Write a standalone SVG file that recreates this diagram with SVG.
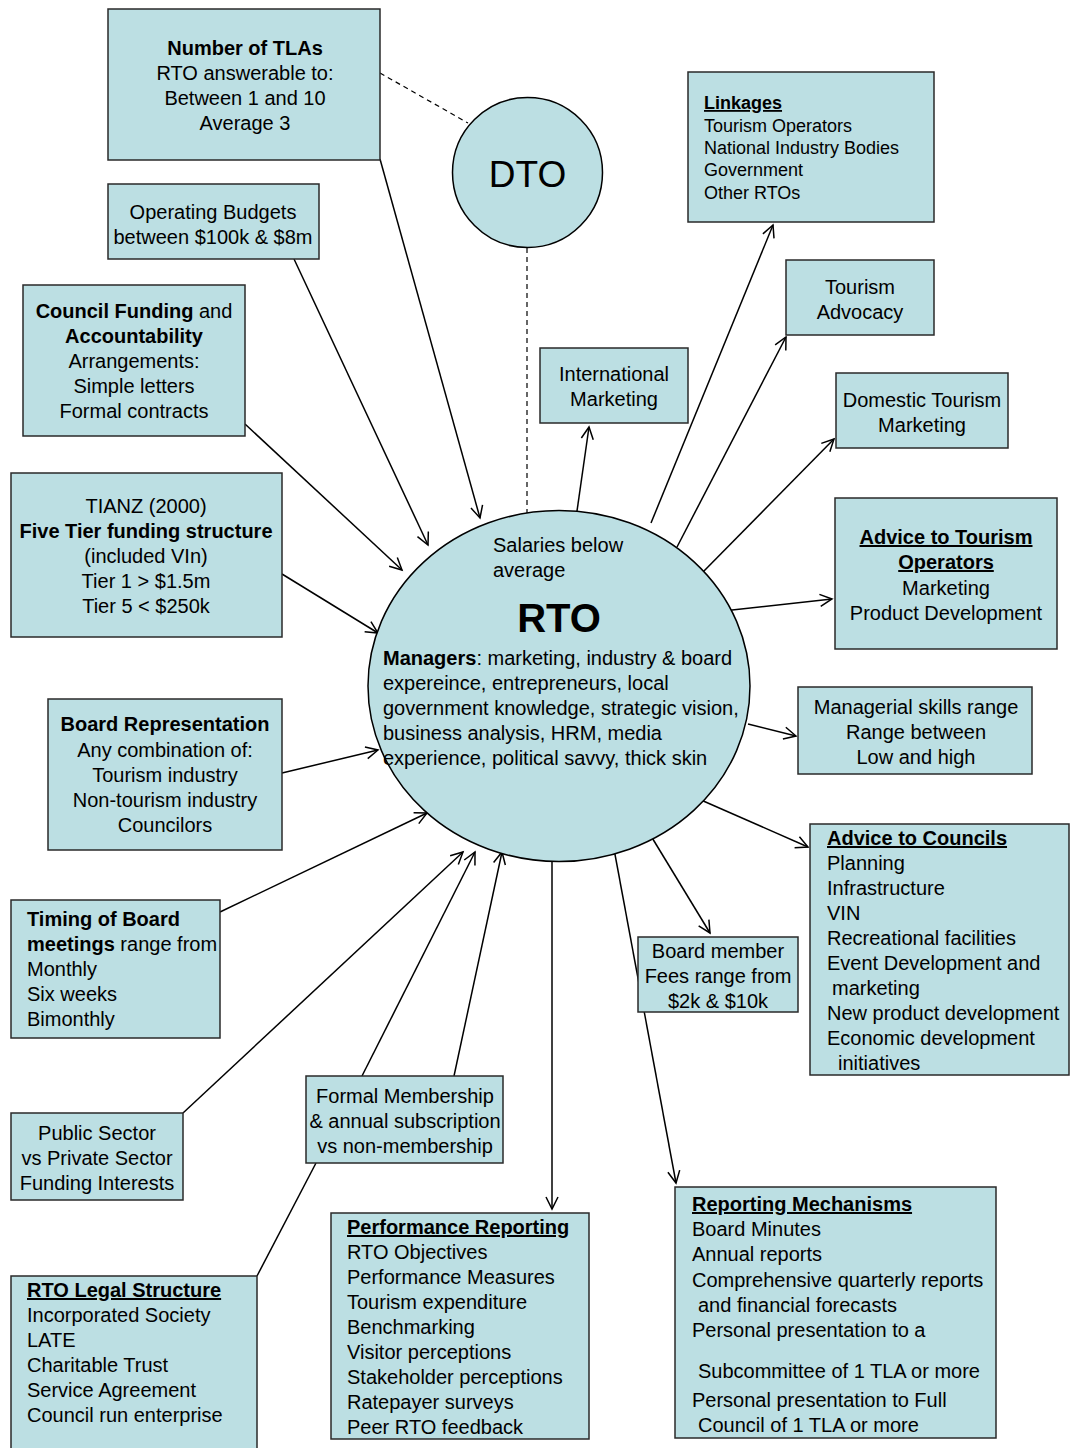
<svg xmlns="http://www.w3.org/2000/svg" width="1070" height="1448" viewBox="0 0 1070 1448">
<style>
.box{fill:#BCDFE3;stroke:#2a2a2a;stroke-width:1.5}
.circ{fill:#BCDFE3;stroke:#000;stroke-width:1.5}
text{font-family:"Liberation Sans",Arial,sans-serif;font-size:20px;fill:#000}
.c{text-anchor:middle}
.b{font-weight:bold}
.u{text-decoration:underline}
.s18{font-size:18px}
#connectors line{stroke:#000;stroke-width:1.5;fill:none}
#connectors .dash{stroke-dasharray:5,4;stroke-width:1.2}
</style>
<defs>
<marker id="arr" markerWidth="16" markerHeight="16" refX="13" refY="7" orient="auto" markerUnits="userSpaceOnUse">
<path d="M1,1 L13,7 L1,13" fill="none" stroke="#000" stroke-width="1.5"/>
</marker>
</defs>
<rect width="1070" height="1448" fill="#fff"/>

<g id="connectors">
<line class="dash" x1="380" y1="73" x2="468" y2="123"/>
<line class="dash" x1="527" y1="248" x2="527" y2="513"/>
<line x1="380" y1="159" x2="480" y2="518" marker-end="url(#arr)"/>
<line x1="294" y1="259" x2="428" y2="545" marker-end="url(#arr)"/>
<line x1="245" y1="424" x2="402" y2="570" marker-end="url(#arr)"/>
<line x1="282" y1="574" x2="378" y2="633" marker-end="url(#arr)"/>
<line x1="282" y1="773" x2="378" y2="750" marker-end="url(#arr)"/>
<line x1="220" y1="912" x2="427" y2="813" marker-end="url(#arr)"/>
<line x1="183" y1="1113" x2="463" y2="852" marker-end="url(#arr)"/>
<line x1="362" y1="1076" x2="475" y2="852" marker-end="url(#arr)"/>
<line x1="454" y1="1076" x2="502" y2="852" marker-end="url(#arr)"/>
<line x1="257" y1="1276" x2="316" y2="1163"/>
<line x1="552" y1="862" x2="552" y2="1209" marker-end="url(#arr)"/>
<line x1="614" y1="849" x2="676" y2="1183" marker-end="url(#arr)"/>
<line x1="651" y1="836" x2="710" y2="933" marker-end="url(#arr)"/>
<line x1="701" y1="800" x2="808" y2="847" marker-end="url(#arr)"/>
<line x1="748" y1="724" x2="796" y2="736" marker-end="url(#arr)"/>
<line x1="723" y1="611" x2="832" y2="599" marker-end="url(#arr)"/>
<line x1="702" y1="573" x2="834" y2="439" marker-end="url(#arr)"/>
<line x1="677" y1="547" x2="786" y2="337" marker-end="url(#arr)"/>
<line x1="651" y1="523" x2="773" y2="225" marker-end="url(#arr)"/>
<line x1="577" y1="511" x2="589" y2="427" marker-end="url(#arr)"/>
</g>

<g id="dto">
<circle class="circ" cx="527.5" cy="172.5" r="75"/>
<text class="c" x="527.5" y="187" style="font-size:37px">DTO</text>
</g>

<g id="rto">
<ellipse class="circ" cx="559" cy="686" rx="191" ry="175.5"/>
<text x="493" y="552">Salaries below</text>
<text x="493" y="577">average</text>
<text class="c b" x="559" y="632" style="font-size:40px">RTO</text>
<text x="383" y="665"><tspan class="b">Managers</tspan>: marketing, industry &amp; board</text>
<text x="383" y="690">expereince, entrepreneurs, local</text>
<text x="383" y="715">government knowledge, strategic vision,</text>
<text x="383" y="740">business analysis, HRM, media</text>
<text x="383" y="765">experience, political savvy, thick skin</text>
</g>

<g id="tlas">
<rect class="box" x="108" y="9" width="272" height="151"/>
<text class="c b" x="245" y="55">Number of TLAs</text>
<text class="c" x="245" y="80">RTO answerable to:</text>
<text class="c" x="245" y="105">Between 1 and 10</text>
<text class="c" x="245" y="130">Average 3</text>
</g>

<g id="budgets">
<rect class="box" x="108" y="184" width="211" height="75"/>
<text class="c" x="213" y="219">Operating Budgets</text>
<text class="c" x="213" y="244">between $100k &amp; $8m</text>
</g>

<g id="council-funding">
<rect class="box" x="23" y="285" width="222" height="151"/>
<text class="c" x="134" y="318"><tspan class="b">Council Funding</tspan> and</text>
<text class="c b" x="134" y="343">Accountability</text>
<text class="c" x="134" y="368">Arrangements:</text>
<text class="c" x="134" y="393">Simple letters</text>
<text class="c" x="134" y="418">Formal contracts</text>
</g>

<g id="tianz">
<rect class="box" x="11" y="473" width="271" height="164"/>
<text class="c" x="146" y="513">TIANZ (2000)</text>
<text class="c b" x="146" y="538">Five Tier funding structure</text>
<text class="c" x="146" y="563">(included VIn)</text>
<text class="c" x="146" y="588">Tier 1 &gt; $1.5m</text>
<text class="c" x="146" y="613">Tier 5 &lt; $250k</text>
</g>

<g id="board-rep">
<rect class="box" x="48" y="699" width="234" height="151"/>
<text class="c b" x="165" y="731">Board Representation</text>
<text class="c" x="165" y="757">Any combination of:</text>
<text class="c" x="165" y="782">Tourism industry</text>
<text class="c" x="165" y="807">Non-tourism industry</text>
<text class="c" x="165" y="832">Councilors</text>
</g>

<g id="timing">
<rect class="box" x="11" y="900" width="209" height="138"/>
<text class="b" x="27" y="926">Timing of Board</text>
<text x="27" y="951"><tspan class="b">meetings</tspan> range from</text>
<text x="27" y="976">Monthly</text>
<text x="27" y="1001">Six weeks</text>
<text x="27" y="1026">Bimonthly</text>
</g>

<g id="public-sector">
<rect class="box" x="11" y="1113" width="172" height="87"/>
<text class="c" x="97" y="1140">Public Sector</text>
<text class="c" x="97" y="1165">vs Private Sector</text>
<text class="c" x="97" y="1190">Funding Interests</text>
</g>

<g id="membership">
<rect class="box" x="306" y="1076" width="197" height="87"/>
<text class="c" x="405" y="1103">Formal Membership</text>
<text class="c" x="405" y="1128">&amp; annual subscription</text>
<text class="c" x="405" y="1153">vs non-membership</text>
</g>

<g id="legal">
<rect class="box" x="11" y="1276" width="246" height="180"/>
<text class="b u" x="27" y="1297">RTO Legal Structure</text>
<text x="27" y="1322">Incorporated Society</text>
<text x="27" y="1347">LATE</text>
<text x="27" y="1372">Charitable Trust</text>
<text x="27" y="1397">Service Agreement</text>
<text x="27" y="1422">Council run enterprise</text>
</g>

<g id="performance">
<rect class="box" x="331" y="1213" width="258" height="226"/>
<text class="b u" x="347" y="1234">Performance Reporting</text>
<text x="347" y="1259">RTO Objectives</text>
<text x="347" y="1284">Performance Measures</text>
<text x="347" y="1309">Tourism expenditure</text>
<text x="347" y="1334">Benchmarking</text>
<text x="347" y="1359">Visitor perceptions</text>
<text x="347" y="1384">Stakeholder perceptions</text>
<text x="347" y="1409">Ratepayer surveys</text>
<text x="347" y="1434">Peer RTO feedback</text>
</g>

<g id="reporting">
<rect class="box" x="675" y="1187" width="321" height="251"/>
<text class="b u" x="692" y="1211">Reporting Mechanisms</text>
<text x="692" y="1236">Board Minutes</text>
<text x="692" y="1261">Annual reports</text>
<text x="692" y="1287">Comprehensive quarterly reports</text>
<text x="698" y="1312">and financial forecasts</text>
<text x="692" y="1337">Personal presentation to a</text>
<text x="698" y="1378">Subcommittee of 1 TLA or more</text>
<text x="692" y="1407">Personal presentation to Full</text>
<text x="698" y="1432">Council of 1 TLA or more</text>
</g>

<g id="fees">
<rect class="box" x="638" y="937" width="160" height="75"/>
<text class="c" x="718" y="958">Board member</text>
<text class="c" x="718" y="983">Fees range from</text>
<text class="c" x="718" y="1008">$2k &amp; $10k</text>
</g>

<g id="councils">
<rect class="box" x="810" y="824" width="259" height="251"/>
<text class="b u" x="827" y="845">Advice to Councils</text>
<text x="827" y="870">Planning</text>
<text x="827" y="895">Infrastructure</text>
<text x="827" y="920">VIN</text>
<text x="827" y="945">Recreational facilities</text>
<text x="827" y="970">Event Development and</text>
<text x="832" y="995">marketing</text>
<text x="827" y="1020">New product development</text>
<text x="827" y="1045">Economic development</text>
<text x="838" y="1070">initiatives</text>
</g>

<g id="managerial">
<rect class="box" x="798" y="687" width="234" height="87"/>
<text class="c" x="916" y="714">Managerial skills range</text>
<text class="c" x="916" y="739">Range between</text>
<text class="c" x="916" y="764">Low and high</text>
</g>

<g id="advice-operators">
<rect class="box" x="835" y="498" width="222" height="151"/>
<text class="c b u" x="946" y="544">Advice to Tourism</text>
<text class="c b u" x="946" y="569">Operators</text>
<text class="c" x="946" y="595">Marketing</text>
<text class="c" x="946" y="620">Product Development</text>
</g>

<g id="domestic">
<rect class="box" x="836" y="373" width="172" height="75"/>
<text class="c" x="922" y="407">Domestic Tourism</text>
<text class="c" x="922" y="432">Marketing</text>
</g>

<g id="advocacy">
<rect class="box" x="786" y="260" width="148" height="75"/>
<text class="c" x="860" y="294">Tourism</text>
<text class="c" x="860" y="319">Advocacy</text>
</g>

<g id="linkages">
<rect class="box" x="688" y="72" width="246" height="150"/>
<text class="b u s18" x="704" y="109">Linkages</text>
<text class="s18" x="704" y="132">Tourism Operators</text>
<text class="s18" x="704" y="154">National Industry Bodies</text>
<text class="s18" x="704" y="176">Government</text>
<text class="s18" x="704" y="199">Other RTOs</text>
</g>

<g id="international">
<rect class="box" x="540" y="348" width="148" height="75"/>
<text class="c" x="614" y="381">International</text>
<text class="c" x="614" y="406">Marketing</text>
</g>
</svg>
